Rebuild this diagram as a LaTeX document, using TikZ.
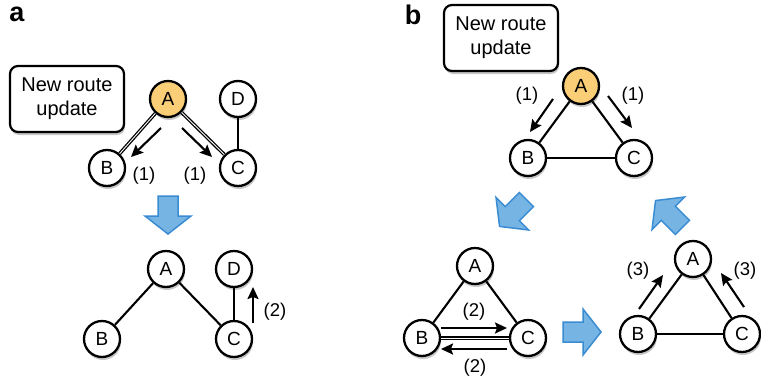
\documentclass[tikz,border=0pt]{standalone}
\usepackage{fontspec}
\setmainfont{Liberation Sans}
\usetikzlibrary{shadows,arrows.meta}

\definecolor{nodeyellow}{RGB}{250,206,118}
\definecolor{arrfill}{RGB}{118,180,228}
\definecolor{arrline}{RGB}{58,140,210}

% thick blue step arrow, centred at (#1,#2), pointing at angle #3
\newcommand\steparrow[3]{%
  \begin{scope}[shift={(#1,#2)},rotate=#3]
    \draw[steparr] (-19,-10) -- (1,-10) -- (1,-23) -- (19,0) -- (1,23) -- (1,10) -- (-19,10) -- cycle;
  \end{scope}}

\begin{document}
\begin{tikzpicture}[x=1pt,y=-1pt,
  softshadow/.style={drop shadow={shadow xshift=1pt,shadow yshift=-3pt,opacity=0.28,fill=black!80}},
  vertex/.style={circle,draw,line width=2.3pt,fill=white,minimum size=36pt,inner sep=0pt,
    font=\fontsize{19}{19}\selectfont,softshadow},
  origin/.style={vertex,fill=nodeyellow},
  msgbox/.style={draw,line width=2.2pt,rounded corners=8pt,fill=white,minimum width=114pt,
    minimum height=66pt,align=center,font=\fontsize{20}{24}\selectfont,softshadow},
  edge/.style={line width=2.1pt},
  busy/.style={line width=1.3pt,double=white,double distance=0.9pt},
  msg/.style={line width=2.1pt,-{Stealth[length=12pt,width=11pt,inset=2pt]}},
  tag/.style={font=\fontsize{18.5}{18.5}\selectfont,inner sep=0pt},
  panel/.style={font=\fontsize{27}{27}\selectfont\bfseries,inner sep=0pt},
  steparr/.style={fill=arrfill,draw=arrline,line width=1.5pt,line join=miter}]

\useasboundingbox (0,0) rectangle (761,381);

% ---------------- panel a ----------------
\node[panel] (la) at (17,14) {a};
\node[msgbox] (boxa) at (67,99) {New route\\update};

\node[origin] (aA) at (168,99) {A};
\node[vertex] (aD) at (238,99) {D};
\node[vertex] (aB) at (107,168) {B};
\node[vertex] (aC) at (238,168) {C};
\draw[busy] (aA) -- (aB);
\draw[busy] (aA) -- (aC);
\draw[edge] (aC) -- (aD);
\coordinate (a1s) at (161,128); \coordinate (a1e) at (131,157);
\coordinate (a2s) at (182,128); \coordinate (a2e) at (212,157);
\draw[msg] (a1s) -- (a1e);
\draw[msg] (a2s) -- (a2e);
\node[tag] (ta1) at (144,176) {(1)};
\node[tag] (ta2) at (195,176) {(1)};

\steparrow{168}{215}{-90}

\node[vertex] (bA) at (166,269) {A};
\node[vertex] (bD) at (234,269) {D};
\node[vertex] (bB) at (102,339) {B};
\node[vertex] (bC) at (234,339) {C};
\draw[edge] (bA) -- (bB);
\draw[edge] (bA) -- (bC);
\draw[edge] (bC) -- (bD);
\coordinate (b1s) at (253,323); \coordinate (b1e) at (253,287);
\draw[msg] (b1s) -- (b1e);
\node[tag] (tb1) at (275,312) {(2)};

% ---------------- panel b ----------------
\node[panel] (lb) at (413,15) {b};
\node[msgbox] (boxb) at (501,38) {New route\\update};

\node[origin] (cA) at (581,86) {A};
\node[vertex] (cB) at (528,158) {B};
\node[vertex] (cC) at (634,158) {C};
\draw[edge] (cA) -- (cB);
\draw[edge] (cA) -- (cC);
\draw[edge] (cB) -- (cC);
\coordinate (c1s) at (553,99); \coordinate (c1e) at (530,132);
\coordinate (c2s) at (608,96); \coordinate (c2e) at (632,128);
\draw[msg] (c1s) -- (c1e);
\draw[msg] (c2s) -- (c2e);
\node[tag] (tc1) at (527,96) {(1)};
\node[tag] (tc2) at (633,96) {(1)};

\steparrow{513}{213}{-135}

\node[vertex] (dA) at (475,266) {A};
\node[vertex] (dB) at (422,338) {B};
\node[vertex] (dC) at (528,338) {C};
\draw[edge] (dA) -- (dB);
\draw[edge] (dA) -- (dC);
\draw[busy] (dB) -- (dC);
\coordinate (d1s) at (441,328); \coordinate (d1e) at (507,328);
\coordinate (d2s) at (507,349); \coordinate (d2e) at (441,349);
\draw[msg] (d1s) -- (d1e);
\draw[msg] (d2s) -- (d2e);
\node[tag] (td1) at (474,312) {(2)};
\node[tag] (td2) at (475,368) {(2)};

\steparrow{582}{332}{0}

\node[vertex] (eA) at (693,259) {A};
\node[vertex] (eB) at (638,334) {B};
\node[vertex] (eC) at (742,334) {C};
\draw[edge] (eA) -- (eB);
\draw[edge] (eA) -- (eC);
\draw[edge] (eB) -- (eC);
\coordinate (e1s) at (639,309); \coordinate (e1e) at (663,275);
\coordinate (e2s) at (744,307); \coordinate (e2e) at (721,273);
\draw[msg] (e1s) -- (e1e);
\draw[msg] (e2s) -- (e2e);
\node[tag] (te1) at (638,271) {(3)};
\node[tag] (te2) at (745,271) {(3)};

\steparrow{669}{214}{135}

\end{tikzpicture}
\end{document}
